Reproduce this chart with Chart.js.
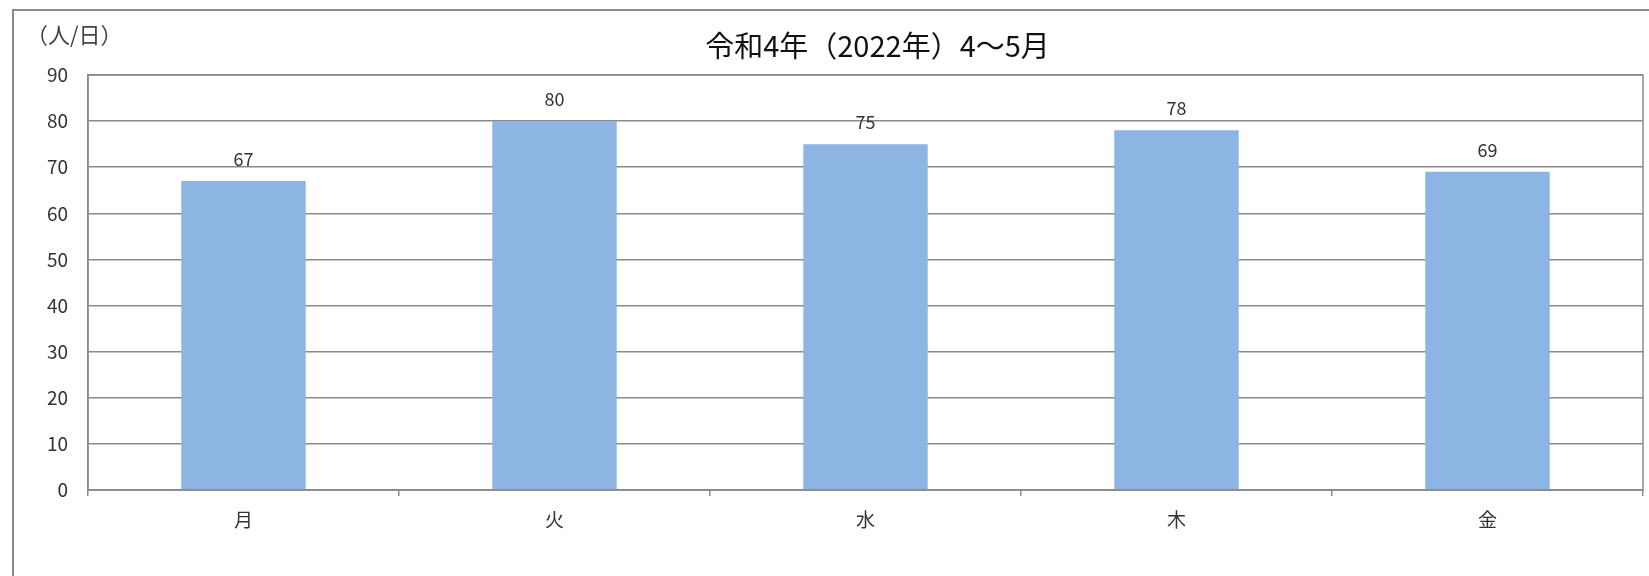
<!DOCTYPE html>
<html>
<head>
<meta charset="utf-8">
<script src="https://cdn.jsdelivr.net/npm/chart.js@4/dist/chart.umd.min.js"></script>
<style>
    html, body { margin: 0; padding: 0; background: #fff; }
    #wrap { position: relative; width: 1649px; height: 576px; overflow: hidden; }
    #frame { position: absolute; left: 12px; top: 9px; width: 1700px; height: 700px; border: 2px solid #8a8a8a; box-sizing: border-box; }
    canvas { position: absolute; left: 0; top: 0; }
</style>
</head>
<body>
<div id="wrap">
    <div id="frame"></div>
    <canvas id="chart" width="1649" height="576"></canvas>
</div>
<script>
const FONT = '"Noto Sans CJK JP", "Noto Sans", sans-serif';

const titleText = '令和4年（2022年）4～5月';
const unitText = '（人/日）';
const days = ['月', '火', '水', '木', '金'];
const visitors = [67, 80, 75, 78, 69];
const yTicks = [0, 10, 20, 30, 40, 50, 60, 70, 80, 90];

const gridColor = '#8a8a8a';

// title, unit label, plot frame and value labels
const decorPlugin = {
    id: 'decor',
    afterDraw(chart) {
        const ctx = chart.ctx;
        const area = chart.chartArea;
        ctx.save();

        ctx.strokeStyle = gridColor;
        ctx.lineWidth = 1.5;
        ctx.strokeRect(area.left, area.top, area.right - area.left, area.bottom - area.top);

        ctx.fillStyle = '#111';
        ctx.font = '29px ' + FONT;
        ctx.textAlign = 'center';
        ctx.textBaseline = 'middle';
        ctx.fillText(titleText, (area.left + area.right) / 2 + 12, 46);

        ctx.fillStyle = '#444';
        ctx.font = '22px ' + FONT;
        ctx.textAlign = 'left';
        ctx.fillText(unitText, 26, 35);

        ctx.fillStyle = '#333';
        ctx.font = '18px ' + FONT;
        ctx.textAlign = 'center';
        const meta = chart.getDatasetMeta(0);
        meta.data.forEach((bar, i) => {
            ctx.fillText(visitors[i], bar.x, bar.y - 22);
        });
        ctx.restore();
    }
};

new Chart(document.getElementById('chart'), {
    type: 'bar',
    data: {
        labels: days,
        datasets: [{
            data: visitors,
            backgroundColor: '#8cb5e3',
            borderWidth: 0,
            barPercentage: 0.8,
            categoryPercentage: 0.5
        }]
    },
    options: {
        responsive: false,
        animation: false,
        events: [],
        layout: { padding: { left: 0, right: 6, top: 75, bottom: 0 } },
        plugins: {
            legend: { display: false },
            title: { display: false },
            tooltip: { enabled: false }
        },
        scales: {
            x: {
                grid: {
                    offset: true,
                    drawOnChartArea: false,
                    drawTicks: true,
                    tickLength: 6,
                    color: gridColor,
                    lineWidth: 1.5
                },
                border: { color: gridColor, width: 1.5 },
                ticks: {
                    color: '#333',
                    font: { family: FONT, size: 19 },
                    padding: 12
                },
                afterFit(scale) { scale.height = 86; }
            },
            y: {
                min: 0,
                max: 90,
                afterBuildTicks(scale) {
                    scale.ticks = yTicks.map(v => ({ value: v }));
                },
                grid: {
                    drawTicks: false,
                    color: gridColor,
                    lineWidth: 1.5
                },
                border: { color: gridColor, width: 1.5 },
                ticks: {
                    color: '#333',
                    font: { family: FONT, size: 19 },
                    padding: 20
                },
                afterFit(scale) { scale.width = 88; }
            }
        }
    },
    plugins: [decorPlugin]
});
</script>
</body>
</html>
